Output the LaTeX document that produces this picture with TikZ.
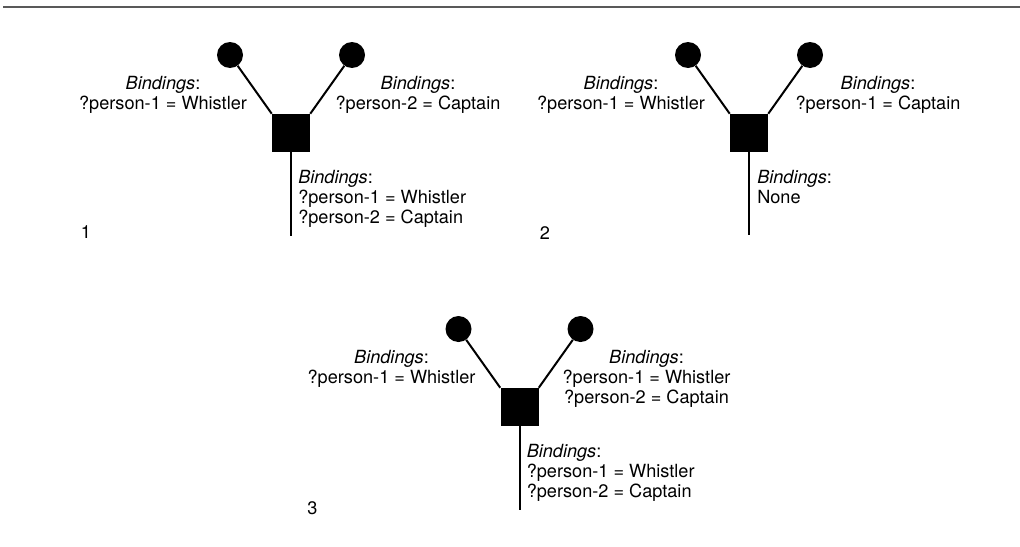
\documentclass[tikz,border=0pt]{standalone}
\usepackage{fontspec}
\setmainfont{TeX Gyre Heros}
\usetikzlibrary{positioning}

\begin{document}
\begin{tikzpicture}[x=0.75pt,y=-0.75pt,
    every node/.style={font=\fontsize{13.6}{15}\selectfont},
    knob/.style={circle,fill,inner sep=0pt,minimum size=19.5pt},
    joiner/.style={rectangle,fill,inner sep=0pt,minimum size=28.5pt},
    wire/.style={line width=1.5pt},
    binds/.style={align=center,inner sep=0pt,anchor=north},
    passed/.style={align=left,inner sep=0pt,anchor=north west}]
  \useasboundingbox (0,0) rectangle (1020,546);
  \draw[black!65,line width=1.5pt] (3,6.5) -- (1020,6.5);

  % Join 1: both bindings pass.
  \begin{scope}[shift={(291,133)}]
    \node[joiner] (d1sq) at (0,0) {};
    \node[knob] (d1left) at (-61,-78) {};
    \node[knob] (d1right) at (61,-78) {};
    \coordinate (d1end) at (0,103);
    \draw[wire] (d1left) -- (d1sq.north west);
    \draw[wire] (d1right) -- (d1sq.north east);
    \draw[wire] (d1sq.south) -- (d1end);
    \node[binds] (d1lbl) at (-128,-57) {\textit{Bindings}:\\?person-1 = Whistler};
    \node[binds] (d1rbl) at (127,-57) {\textit{Bindings}:\\?person-2 = Captain};
    \node[passed] (d1out) at (7,37) {\textit{Bindings}:\\?person-1 = Whistler\\?person-2 = Captain};
    \node (d1num) at (-205,99) {1};
  \end{scope}

  % Join 2: bindings clash.
  \begin{scope}[shift={(749,133)}]
    \node[joiner] (d2sq) at (0,0) {};
    \node[knob] (d2left) at (-61,-78) {};
    \node[knob] (d2right) at (61,-78) {};
    \coordinate (d2end) at (0,102);
    \draw[wire] (d2left) -- (d2sq.north west);
    \draw[wire] (d2right) -- (d2sq.north east);
    \draw[wire] (d2sq.south) -- (d2end);
    \node[binds] (d2lbl) at (-128,-57) {\textit{Bindings}:\\?person-1 = Whistler};
    \node[binds] (d2rbl) at (129,-57) {\textit{Bindings}:\\?person-1 = Captain};
    \node[passed] (d2out) at (8,37) {\textit{Bindings}:\\None};
    \node (d2num) at (-204,100) {2};
  \end{scope}

  % Join 3: right side already bound.
  \begin{scope}[shift={(519.5,407)}]
    \node[joiner] (d3sq) at (0,0) {};
    \node[knob] (d3left) at (-61,-78) {};
    \node[knob] (d3right) at (61,-78) {};
    \coordinate (d3end) at (0,103);
    \draw[wire] (d3left) -- (d3sq.north west);
    \draw[wire] (d3right) -- (d3sq.north east);
    \draw[wire] (d3sq.south) -- (d3end);
    \node[binds] (d3lbl) at (-128,-57) {\textit{Bindings}:\\?person-1 = Whistler};
    \node[binds] (d3rbl) at (127,-57) {\textit{Bindings}:\\?person-1 = Whistler\\?person-2 = Captain};
    \node[passed] (d3out) at (7,37) {\textit{Bindings}:\\?person-1 = Whistler\\?person-2 = Captain};
    \node (d3num) at (-207,101) {3};
  \end{scope}
\end{tikzpicture}
\end{document}
